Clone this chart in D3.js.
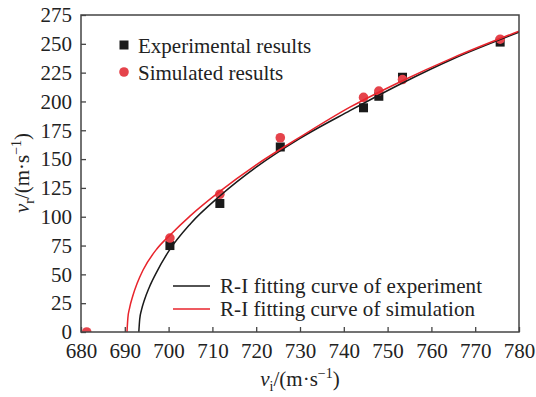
<!DOCTYPE html>
<html>
<head>
<meta charset="utf-8">
<script src="https://cdn.jsdelivr.net/npm/d3@7"></script>
<style>
  body { margin: 0; background: #fff; }
</style>
</head>
<body>
<div id="chart"></div>
<script>
// measured points
var expX = [700.3, 711.7, 725.5, 744.5, 748.0, 753.4, 775.7];
var expY = [75, 111.5, 160.5, 194.5, 204.5, 221, 251.5];
var simX = [681.3, 700.3, 711.7, 725.5, 744.5, 748.0, 753.4, 775.7];
var simY = [0, 81.5, 119.5, 168.5, 203.5, 209, 219, 254];

// R-I fitting curves
var fitExpX = [693.2, 693.4, 693.8, 694.5, 695.5, 697, 700, 705, 711.7, 720, 730, 741.4, 753.4, 765, 780];
var fitExpY = [0, 11, 19, 28, 38, 50, 70, 94, 118, 143, 168, 192, 216, 237, 260];
var fitSimX = [690.5, 690.7, 691.1, 691.8, 692.8, 694.2, 697.3, 700.3, 705, 711.7, 720, 730, 741.4, 753.4, 765, 780];
var fitSimY = [0, 12, 21, 31, 42, 54, 72, 84, 101, 122, 145, 169, 195, 218, 238, 261];

var xTicks = [680, 690, 700, 710, 720, 730, 740, 750, 760, 770, 780];
var yTicks = [0, 25, 50, 75, 100, 125, 150, 175, 200, 225, 250, 275];

var W = 536, H = 397;
var margin = { top: 15, right: 17, bottom: 65, left: 81 },
    width = W - margin.left - margin.right,
    height = H - margin.top - margin.bottom;

var FONT = "Liberation Serif";
var black = "#1a1a1a", red = "#e8242c", redDot = "#e5434b", frame = "#444", ink = "#222";

var x = d3.scaleLinear().domain([680, 780]).range([0, width]);
var y = d3.scaleLinear().domain([0, 275]).range([height, 0]);

var svg = d3.select("#chart").append("svg")
    .attr("width", W)
    .attr("height", H)
    .attr("font-family", FONT)
  .append("g")
    .attr("transform", "translate(" + margin.left + "," + margin.top + ")");

svg.append("clipPath")
    .attr("id", "clip")
  .append("rect")
    .attr("width", width)
    .attr("height", height);

// axes with inward ticks
var xAxis = svg.append("g")
    .attr("transform", "translate(0," + height + ")")
    .call(d3.axisBottom(x).tickValues(xTicks).tickSize(-5).tickPadding(11).tickFormat(d3.format("d")));
var yAxis = svg.append("g")
    .call(d3.axisLeft(y).tickValues(yTicks).tickSize(-5).tickPadding(9).tickFormat(d3.format("d")));

[xAxis, yAxis].forEach(function (a) {
    a.attr("font-family", FONT).attr("font-size", 21);
    a.select(".domain").remove();
    a.selectAll(".tick line").attr("stroke", frame).attr("stroke-width", 1.3);
    a.selectAll(".tick text").attr("fill", ink);
});

var plot = svg.append("g").attr("clip-path", "url(#clip)");

// markers
plot.selectAll("rect.exp")
    .data(d3.range(expX.length))
  .enter().append("rect")
    .attr("class", "exp")
    .attr("x", function (i) { return x(expX[i]) - 4.5; })
    .attr("y", function (i) { return y(expY[i]) - 4.5; })
    .attr("width", 9)
    .attr("height", 9)
    .attr("fill", black);

plot.selectAll("circle.sim")
    .data(d3.range(simX.length))
  .enter().append("circle")
    .attr("class", "sim")
    .attr("cx", function (i) { return x(simX[i]); })
    .attr("cy", function (i) { return y(simY[i]); })
    .attr("r", 4.8)
    .attr("fill", redDot);

// fitting curves
var line = d3.line()
    .x(function (d) { return x(d[0]); })
    .y(function (d) { return y(d[1]); })
    .curve(d3.curveMonotoneX);

plot.append("path")
    .datum(d3.zip(fitExpX, fitExpY))
    .attr("d", line)
    .attr("fill", "none")
    .attr("stroke", black)
    .attr("stroke-width", 1.5);

plot.append("path")
    .datum(d3.zip(fitSimX, fitSimY))
    .attr("d", line)
    .attr("fill", "none")
    .attr("stroke", red)
    .attr("stroke-width", 1.5);

// frame
svg.append("rect")
    .attr("width", width)
    .attr("height", height)
    .attr("fill", "none")
    .attr("stroke", frame)
    .attr("stroke-width", 1.5);

function label(g, px, py, t) {
    return g.append("text").attr("x", px - margin.left).attr("y", py - margin.top)
        .attr("font-family", FONT).attr("font-size", 21).attr("fill", ink).text(t);
}

// legend, top left
var lg = svg.append("g");
lg.append("rect").attr("x", 124 - margin.left - 4.5).attr("y", 45 - margin.top - 4.5)
    .attr("width", 9).attr("height", 9).attr("fill", black);
lg.append("circle").attr("cx", 124 - margin.left).attr("cy", 72 - margin.top)
    .attr("r", 4.8).attr("fill", redDot);
label(lg, 138, 53, "Experimental results");
label(lg, 138, 80, "Simulated results");

// legend, bottom right
var lg2 = svg.append("g");
lg2.append("line").attr("x1", 173 - margin.left).attr("x2", 210 - margin.left)
    .attr("y1", 286 - margin.top).attr("y2", 286 - margin.top)
    .attr("stroke", black).attr("stroke-width", 1.5);
lg2.append("line").attr("x1", 173 - margin.left).attr("x2", 210 - margin.left)
    .attr("y1", 309 - margin.top).attr("y2", 309 - margin.top)
    .attr("stroke", red).attr("stroke-width", 1.5);
label(lg2, 220, 293, "R-I fitting curve of experiment").attr("textLength", 262);
label(lg2, 220, 316, "R-I fitting curve of simulation").attr("textLength", 255);

// axis titles
function axisTitle(t, sub) {
    t.attr("font-family", FONT).attr("font-size", 21).attr("fill", ink);
    t.append("tspan").attr("font-style", "italic").text("v");
    t.append("tspan").attr("dy", 5).attr("font-size", 14).text(sub);
    t.append("tspan").attr("dy", -5).text("/(m\u00b7s");
    t.append("tspan").attr("dy", -8).attr("font-size", 14).text("\u22121");
    t.append("tspan").attr("dy", 8).text(")");
}

var xt = svg.append("text")
    .attr("x", width / 2)
    .attr("y", 386 - margin.top)
    .attr("text-anchor", "middle");
axisTitle(xt, "i");

var yt = svg.append("text")
    .attr("transform", "translate(" + (29 - margin.left) + "," + (173 - margin.top) + ") rotate(-90)")
    .attr("text-anchor", "middle");
axisTitle(yt, "r");
</script>
</body>
</html>
